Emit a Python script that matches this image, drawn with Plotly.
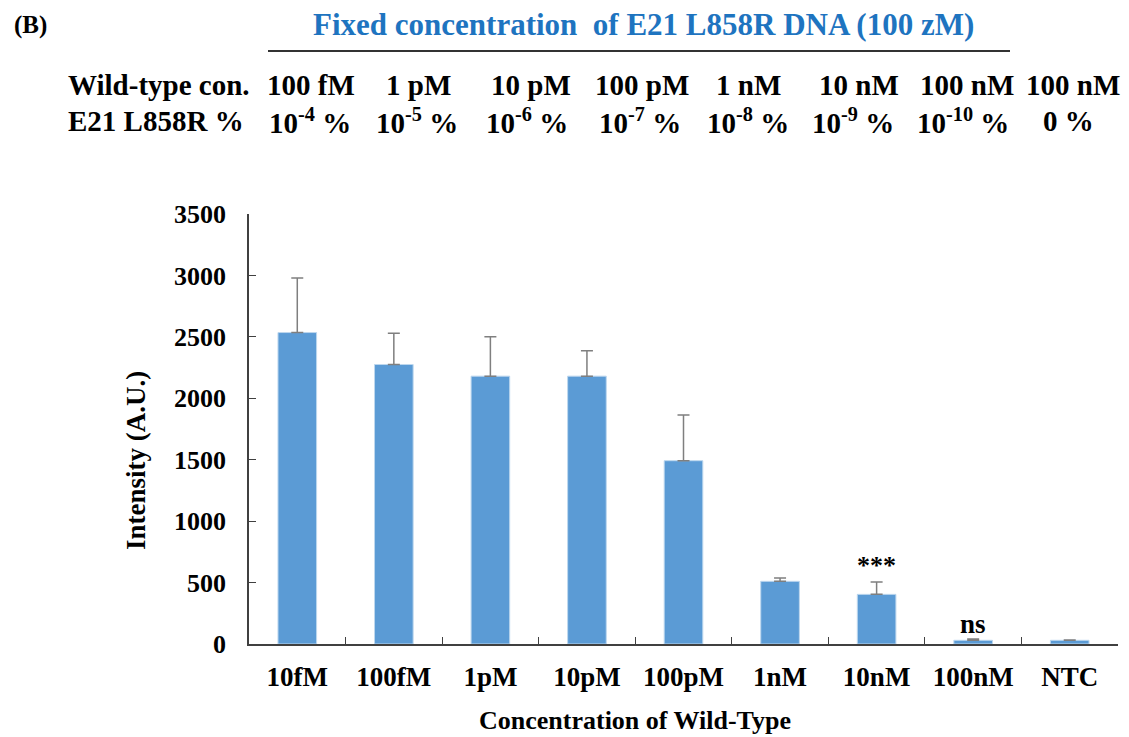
import plotly.graph_objects as go

# ---- data -------------------------------------------------------------
categories = ["10fM", "100fM", "1pM", "10pM", "100pM", "1nM", "10nM", "100nM", "NTC"]
intensity = [2535, 2275, 2180, 2180, 1492, 510, 404, 30, 30]
intensity_err = [445, 255, 320, 206, 372, 27, 100, 10, 3]
significance = {"10nM": "***", "100nM": "ns"}

wild_type_conc = ["100 fM", "1 pM", "10 pM", "100 pM", "1 nM", "10 nM", "100 nM", "100 nM"]
mutant_percent = ["10<sup>-4</sup> %", "10<sup>-5</sup> %", "10<sup>-6</sup> %", "10<sup>-7</sup> %",
                  "10<sup>-8</sup> %", "10<sup>-9</sup> %", "10<sup>-10</sup> %", "0 %"]

# ---- layout geometry (pixels) -------------------------------------------
W, H = 1129, 737
L, R, T, B = 249, 11, 214, 93
PW, PH = W - L - R, H - T - B

def px(x):
    return (x - L) / PW

def py(y):
    return (H - B - y) / PH

SERIF = "'Liberation Serif', 'Times New Roman', Times, serif"
BLACK = "#000000"
AXIS = "#404040"
BLUE_TITLE = "#1E74C0"

fig = go.Figure()
fig.add_trace(go.Bar(
    x=categories,
    y=intensity,
    marker=dict(color="#5B9BD5", line=dict(color="#BDD7EE", width=1)),
    error_y=dict(type="data", symmetric=False, array=intensity_err,
                 arrayminus=[0] * len(intensity_err),
                 color="#7F7F7F", thickness=1.5, width=6),
    width=0.4,
    showlegend=False,
))

annotations = []

# significance marks above the error bars
for cat, mark in significance.items():
    i = categories.index(cat)
    big = mark == "ns"
    annotations.append(dict(
        x=cat, y=intensity[i] + intensity_err[i], xref="x", yref="y",
        text=f"<b>{mark}</b>", showarrow=False, yanchor="bottom",
        yshift=-2 if big else 0,
        font=dict(family=SERIF, size=27 if big else 26, color=BLACK),
    ))

def label(x, y, text, size, color=BLACK, xanchor="center", **kw):
    return dict(x=px(x), y=py(y), xref="paper", yref="paper", text=f"<b>{text}</b>",
                showarrow=False, xanchor=xanchor, yanchor="middle",
                font=dict(family=SERIF, size=size, color=color), **kw)

# panel letter and header title
annotations.append(label(12, 25, "(B)", 25, xanchor="left"))
annotations.append(label(643, 24, "Fixed concentration  of E21 L858R DNA (100 zM)", 31, BLUE_TITLE))

# header table rows
ROW = 29
annotations.append(label(66, 85, "Wild-type con.", ROW, xanchor="left"))
annotations.append(label(66, 121, "E21 L858R %", ROW, xanchor="left"))
row1_cols = [311, 418, 531, 642, 748, 859, 967, 1073]
row2_cols = [310, 417, 527, 640, 748, 853, 963, 1068]
for cx, txt in zip(row1_cols, wild_type_conc):
    annotations.append(label(cx, 85, txt, ROW))
for cx, txt in zip(row2_cols, mutant_percent):
    annotations.append(label(cx, 121, txt, ROW))

# axis titles
annotations.append(label(136, 461, "Intensity (A.U.)", 27, textangle=-90))
annotations.append(label(635, 720, "Concentration of Wild-Type", 26))

fig.update_layout(
    width=W, height=H,
    margin=dict(l=L, r=R, t=T, b=B, pad=0),
    paper_bgcolor="white", plot_bgcolor="white",
    font=dict(family=SERIF, color=BLACK),
    bargap=0.6,
    annotations=annotations,
    shapes=[dict(type="line", xref="paper", yref="paper",
                 x0=px(268), x1=px(1010), y0=py(51), y1=py(51),
                 line=dict(color="#333333", width=2))],
)

fig.update_xaxes(
    type="category",
    tickvals=categories, ticktext=[f"<b>{c}</b>" for c in categories],
    showline=True, linecolor=AXIS, linewidth=1.5,
    ticks="inside", tickson="boundaries", ticklen=7, tickwidth=1.2, tickcolor=AXIS,
    showgrid=False, zeroline=False,
    tickfont=dict(family=SERIF, size=27, color=BLACK),
    ticklabelstandoff=8,
)
fig.update_yaxes(
    range=[0, 3500], tick0=0, dtick=500,
    showline=True, linecolor=AXIS, linewidth=1.5,
    ticks="inside", ticklen=7, tickwidth=1.2, tickcolor=AXIS,
    showgrid=False, zeroline=False,
    tickfont=dict(family=SERIF, size=26, color=BLACK, weight="bold"),
    ticklabelstandoff=16,
)

fig.write_html("out.html")
